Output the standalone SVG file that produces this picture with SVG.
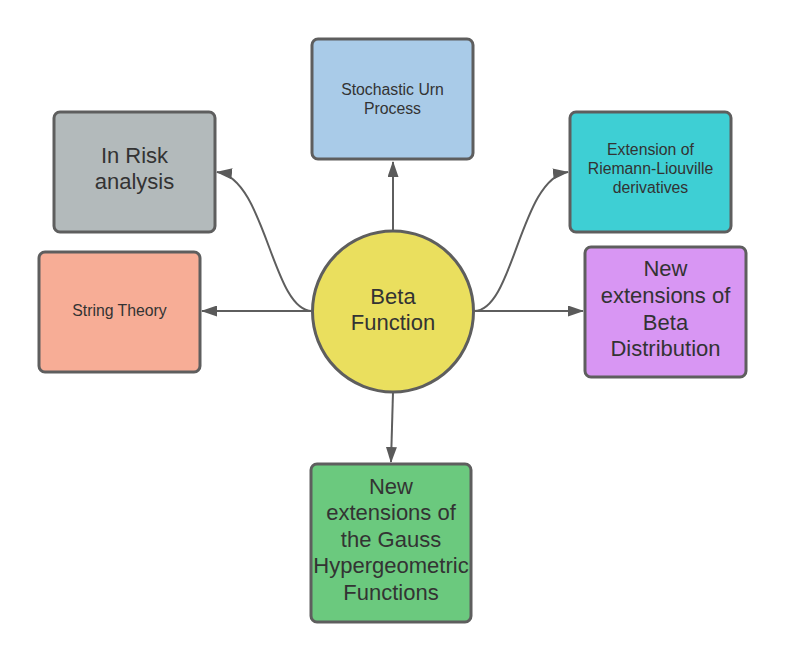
<svg xmlns="http://www.w3.org/2000/svg" width="786" height="662" viewBox="0 0 786 662">
<style>
.box{stroke:#5e5e5e;stroke-width:3}
.t{font-family:"Liberation Sans",Arial,sans-serif;fill:#333333;text-anchor:middle}
.big{font-size:22px}
.sm{font-size:15.8px}
.c{fill:none;stroke:#5e5e5e;stroke-width:2}
</style>
<defs>
<marker id="ah" viewBox="0 0 16 11" refX="15" refY="5.5" markerWidth="16" markerHeight="11" markerUnits="userSpaceOnUse" orient="auto">
<path d="M0,0 L16,5.5 L0,11 Z" fill="#5a5a5a"/>
</marker>
</defs>
<rect width="786" height="662" fill="#ffffff"/>
<g id="connectors">
<path class="c" d="M393,231 L393,162" marker-end="url(#ah)"/>
<path class="c" d="M312,311 L202,311" marker-end="url(#ah)"/>
<path class="c" d="M474,311 L583,311" marker-end="url(#ah)"/>
<path class="c" d="M393,392 L391,462" marker-end="url(#ah)"/>
<path class="c" d="M312,311 C272,311 266,178 217,172" marker-end="url(#ah)"/>
<path class="c" d="M474,311 C514,311 520,178 568,172" marker-end="url(#ah)"/>
</g>
<g id="risk">
<rect class="box" x="54" y="112" width="161" height="120" rx="6" fill="#b3babb"/>
<text class="t big" x="134.5" y="163">In Risk</text>
<text class="t big" x="134.5" y="189">analysis</text>
</g>
<g id="urn">
<rect class="box" x="312" y="39" width="161" height="120" rx="6" fill="#a9cbe8"/>
<text class="t sm" x="392.5" y="95">Stochastic Urn</text>
<text class="t sm" x="392.5" y="114">Process</text>
</g>
<g id="riemann">
<rect class="box" x="570" y="112" width="161" height="120" rx="6" fill="#3ecfd4"/>
<text class="t sm" x="650.5" y="155">Extension of</text>
<text class="t sm" x="650.5" y="174">Riemann-Liouville</text>
<text class="t sm" x="650.5" y="193">derivatives</text>
</g>
<g id="string">
<rect class="box" x="39" y="252" width="161" height="120" rx="6" fill="#f7ad96"/>
<text class="t sm" x="119.5" y="316">String Theory</text>
</g>
<g id="betadist">
<rect class="box" x="585" y="247" width="161" height="130" rx="6" fill="#d896f3"/>
<text class="t big" x="665.5" y="276">New</text>
<text class="t big" x="665.5" y="303">extensions of</text>
<text class="t big" x="665.5" y="330">Beta</text>
<text class="t big" x="665.5" y="356">Distribution</text>
</g>
<g id="gauss">
<rect class="box" x="311" y="464" width="160" height="158" rx="6" fill="#6bc97e"/>
<text class="t big" x="391" y="494">New</text>
<text class="t big" x="391" y="520">extensions of</text>
<text class="t big" x="391" y="547">the Gauss</text>
<text class="t big" x="391" y="573">Hypergeometric</text>
<text class="t big" x="391" y="600">Functions</text>
</g>
<g id="beta">
<circle cx="393" cy="311.5" r="80.5" fill="#eadf5e" stroke="#5e5e5e" stroke-width="3"/>
<text class="t big" x="393" y="304">Beta</text>
<text class="t big" x="393" y="330">Function</text>
</g>
</svg>
